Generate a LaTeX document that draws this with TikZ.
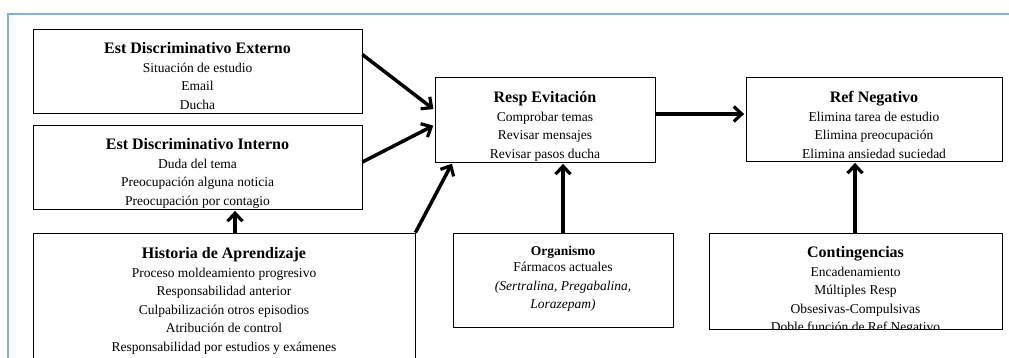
\documentclass[tikz,border=0pt]{standalone}
\usepackage{fontspec}
\setmainfont{Liberation Serif}
\usetikzlibrary{arrows.meta,calc}
\definecolor{framecol}{RGB}{125,178,225}
\tikzset{
  box/.style={draw=black, line width=0.8pt, fill=none, inner sep=0pt},
  txt/.style={anchor=north, align=center, inner sep=0pt,
     font=\fontsize{13.5}{18.5}\selectfont},
  conn/.style={line width=3.5pt, -{Straight Barb[length=8pt,width=15pt,line width=3.2pt]}, shorten >=1.5pt}
}
\newcommand{\boxtitle}[1]{{\fontsize{16}{18.5}\selectfont\bfseries #1}}
\begin{document}
\begin{tikzpicture}[x=1pt,y=-1pt]
\useasboundingbox (0,0) rectangle (1009,358);
\fill[white] (0,0) rectangle (1009,358);
% outer frame
\draw[framecol, line width=1.5pt] (8,400) -- (8,14) -- (1030,14);

% boxes
\node[box, minimum width=329pt, minimum height=84pt] (ext) at (197.5,71) {};
\node[box, minimum width=329pt, minimum height=84pt] (int) at (197.5,167) {};
\node[box, minimum width=382pt, minimum height=147pt] (hist) at (224,306.5) {};
\node[box, minimum width=220pt, minimum height=85pt] (resp) at (545,119.5) {};
\node[box, minimum width=220pt, minimum height=94pt] (org) at (563,280) {};
\node[box, minimum width=256pt, minimum height=84pt] (ref) at (874,119) {};
\node[box, minimum width=293pt, minimum height=96pt] (cont) at (855.5,281) {};

% texts
\node[txt] (extT) at (197.5,42.3) {\boxtitle{Est Discriminativo Externo}\\Situación de estudio\\Email\\Ducha};
\node[txt] (intT) at (197.5,138.3) {\boxtitle{Est Discriminativo Interno}\\Duda del tema\\Preocupación alguna noticia\\Preocupación por contagio};
\node[txt] (histT) at (224,247.3) {\boxtitle{Historia de Aprendizaje}\\Proceso moldeamiento progresivo\\Responsabilidad anterior\\Culpabilización otros episodios\\Atribución de control\\Responsabilidad por estudios y exámenes};
\node[txt] (respT) at (545,91.3) {\boxtitle{Resp Evitación}\\Comprobar temas\\Revisar mensajes\\Revisar pasos ducha};
\node[txt] (orgT) at (563,246.2) {{\bfseries Organismo}\\[-2.5pt]Fármacos actuales\\\textit{(Sertralina, Pregabalina,}\\\textit{Lorazepam)}};
\node[txt] (refT) at (874,91.3) {\boxtitle{Ref Negativo}\\Elimina tarea de estudio\\Elimina preocupación\\Elimina ansiedad suciedad};
\begin{scope}
\clip (cont.south west) rectangle (cont.north east);
\node[txt] (contT) at (855.5,246.3) {\boxtitle{Contingencias}\\Encadenamiento\\Múltiples Resp\\Obsesivas-Compulsivas\\Doble función de Ref Negativo};
\end{scope}

% connectors
\draw[conn] ($(ext.north east)+(0,26)$) -- ($(resp.west)+(0,-9.5)$);
\draw[conn] ($(int.east)+(0,-5)$) -- ($(resp.west)+(0,5.5)$);
\draw[conn] (hist.north east) -- ($(resp.south west)+(18,0)$);
\draw[conn] ($(hist.north)+(11,0)$) -- ($(int.south)+(37.5,0)$);
\draw[conn] (org.north) -- ($(resp.south)+(18,0)$);
\draw[conn] ($(resp.east)+(0,-5.5)$) -- ($(ref.west)+(0,-5)$);
\draw[conn] ($(cont.north)+(-0.5,0)$) -- ($(ref.south)+(-19,0)$);
\end{tikzpicture}
\end{document}
